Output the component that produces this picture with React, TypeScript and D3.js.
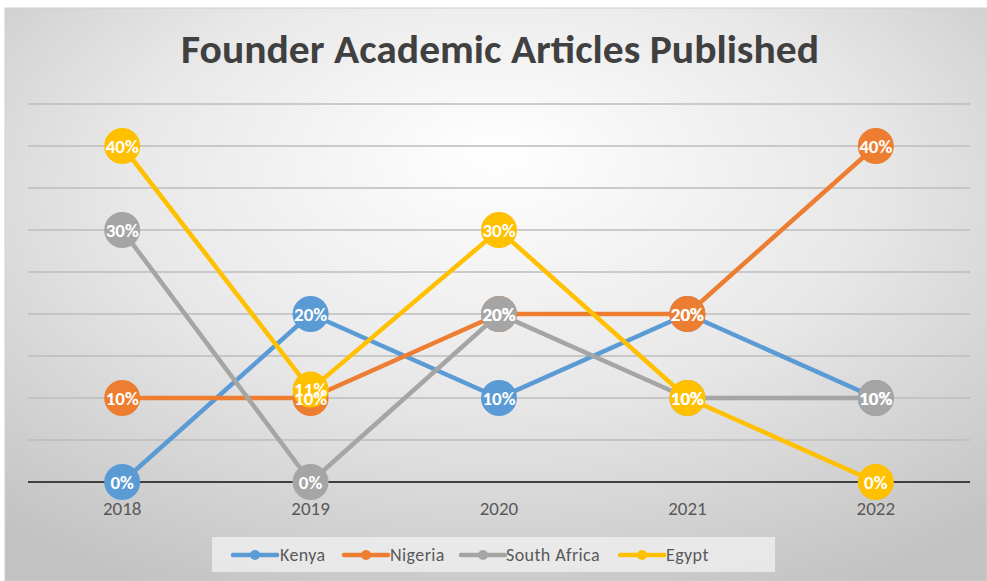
import React from "react";
import * as d3 from "d3";

const years = ["2018", "2019", "2020", "2021", "2022"];
const seriesNames = ["Kenya", "Nigeria", "South Africa", "Egypt"];
const kenya = [0, 0.2, 0.1, 0.2, 0.1];
const nigeria = [0.1, 0.1, 0.2, 0.2, 0.4];
const southAfrica = [0.3, 0, 0.2, 0.1, 0.1];
const egypt = [0.4, 0.11, 0.3, 0.1, 0];
const colors = ["#5B9BD5", "#ED7D31", "#A5A5A5", "#FFC000"];
const gridTicks = [0.05, 0.1, 0.15, 0.2, 0.25, 0.3, 0.35, 0.4, 0.45];

const W = 987, H = 581;

export default function App() {
  const x = d3.scaleBand<string>().domain(years).range([28, 970]).padding(0);
  const y = d3.scaleLinear().domain([0, 0.45]).range([482, 104]);
  const cx = (yr: string) => (x(yr) as number) + x.bandwidth() / 2;
  const series = [kenya, nigeria, southAfrica, egypt].map((vals, i) => ({
    name: seriesNames[i],
    color: colors[i],
    pts: vals.map((v, j) => ({ yr: years[j], v })),
  }));
  const line = d3
    .line<{ yr: string; v: number }>()
    .x((d) => cx(d.yr))
    .y((d) => y(d.v));
  const font = "Calibri, Carlito, Lato, 'Open Sans', sans-serif";
  const legendItems = [
    { x: 233, tx: 280 },
    { x: 344, tx: 390 },
    { x: 461, tx: 506 },
    { x: 620, tx: 666 },
  ];
  return (
    <svg width={W} height={H} style={{ position: "absolute", left: 0, top: 0, display: "block" }}>
      <defs>
        <radialGradient id="bg" cx="0.5" cy="0.35" r="0.75" fx="0.5" fy="0.25">
          <stop offset="0" stopColor="#ffffff" />
          <stop offset="0.5" stopColor="#e8e8e8" />
          <stop offset="1" stopColor="#c2c2c2" />
        </radialGradient>
      </defs>
      <rect x={0} y={0} width={W} height={H} fill="#ffffff" />
      <rect x={5} y={8} width={W - 5} height={H - 8} fill="url(#bg)" stroke="#d0d0d0" strokeWidth={1} />
      <text
        x={500}
        y={63}
        textAnchor="middle"
        fontFamily={font}
        fontWeight="bold"
        fontSize={40}
        fill="#404040"
        textLength={638}
        lengthAdjust="spacingAndGlyphs"
      >
        Founder Academic Articles Published
      </text>
      {gridTicks.map((t) => (
        <line key={t} x1={28} x2={970} y1={y(t)} y2={y(t)} stroke="#bdbdbd" strokeWidth={1.5} />
      ))}
      <line x1={28} x2={970} y1={y(0)} y2={y(0)} stroke="#404040" strokeWidth={2} />
      {years.map((yr) => (
        <text key={yr} x={cx(yr)} y={515} textAnchor="middle" fontFamily={font} fontSize={19} fill="#595959">
          {yr}
        </text>
      ))}
      {series.map((s) => (
        <g key={s.name}>
          <path d={line(s.pts) || ""} fill="none" stroke={s.color} strokeWidth={4.5} strokeLinejoin="round" />
          {s.pts.map((p) => (
            <circle key={p.yr} cx={cx(p.yr)} cy={y(p.v)} r={18} fill={s.color} />
          ))}
        </g>
      ))}
      {series.map((s) => (
        <g key={s.name + "-lbl"}>
          {s.pts.map((p) => (
            <text
              key={p.yr}
              x={cx(p.yr)}
              y={y(p.v) + 6.5}
              textAnchor="middle"
              fontFamily={font}
              fontSize={19}
              fontWeight={600}
              fill="#ffffff"
            >
              {Math.round(p.v * 100) + "%"}
            </text>
          ))}
        </g>
      ))}
      <rect x={212} y={537} width={563} height={35} fill="#f2f2f2" fillOpacity={0.75} />
      {series.map((s, i) => (
        <g key={s.name + "-leg"}>
          <line x1={legendItems[i].x} x2={legendItems[i].x + 44} y1={555} y2={555} stroke={s.color} strokeWidth={4.5} strokeLinecap="round" />
          <circle cx={legendItems[i].x + 22} cy={555} r={5} fill={s.color} />
          <text x={legendItems[i].tx} y={561} fontFamily={font} fontSize={18} letterSpacing={0.4} fill="#595959">
            {s.name}
          </text>
        </g>
      ))}
    </svg>
  );
}
